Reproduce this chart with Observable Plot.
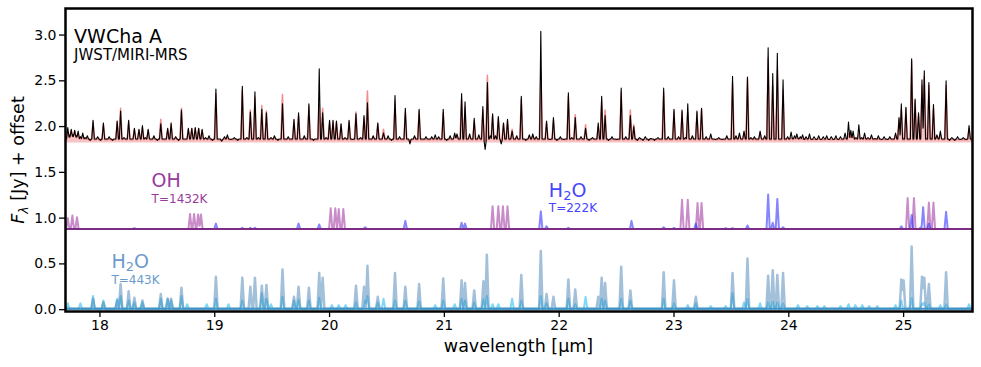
<!DOCTYPE html>
<html><head><meta charset="utf-8">
<script src="https://cdn.jsdelivr.net/npm/d3@7"></script>
<script src="https://cdn.jsdelivr.net/npm/@observablehq/plot@0.6"></script>
<style>body{margin:0;background:#fff} svg{display:block}</style>
</head><body><div id="chart"></div>
<script>
// Observed spectrum (black) and model (red) — [wavelength µm, observed flux+offset, model flux+offset]
const obsLines = [
 [17.72,1.99,1.95],[17.735,1.90,1.88],[17.75,1.97,1.96],[17.765,1.91,1.89],[17.78,1.96,1.95],[17.795,1.90,1.88],
 [17.81,1.95,1.93],[17.83,1.89,1.87],[17.85,1.93,1.91],[17.87,1.88,1.87],[17.89,1.90,1.87],[17.915,1.85,1.86],
 [17.94,2.07,2.05],[17.98,1.89,1.87],[18.005,1.85,1.86],[18.03,2.04,2.02],[18.08,1.89,1.87],[18.11,1.85,1.86],
 [18.15,2.06,2.05],[18.18,2.17,2.20],[18.21,1.88,1.87],[18.25,2.07,2.05],[18.30,1.98,1.97],[18.34,1.97,1.96],
 [18.37,2.01,1.99],[18.395,1.88,1.87],[18.42,1.97,1.96],[18.47,1.90,1.88],[18.50,1.85,1.86],[18.53,2.03,2.08],
 [18.59,1.98,1.97],[18.62,2.04,2.02],[18.66,1.89,1.88],[18.685,1.85,1.86],[18.71,2.18,2.20],[18.77,1.98,1.97],
 [18.80,1.98,1.98],[18.83,1.99,1.98],[18.86,1.98,1.98],[18.89,1.97,1.96],[18.92,1.88,1.87],[18.95,1.90,1.87],
 [18.98,1.85,1.86],[19.01,2.41,2.36],[19.06,1.84,1.85],[19.085,1.89,1.87],[19.11,1.91,1.88],[19.14,1.86,1.86],
 [19.17,1.88,1.86],[19.20,1.85,1.86],[19.24,2.44,2.40],[19.28,1.88,1.87],[19.31,2.16,2.18],[19.35,2.38,2.32],
 [19.38,1.88,1.87],[19.41,2.19,2.23],[19.45,2.15,2.17],[19.49,1.88,1.87],[19.52,1.90,1.88],[19.55,1.85,1.86],
 [19.59,2.25,2.35],[19.64,1.89,1.87],[19.69,2.08,2.06],[19.73,2.15,2.12],[19.78,1.90,1.88],[19.82,2.25,2.22],
 [19.86,1.85,1.86],[19.91,2.63,2.25],[19.94,2.15,2.20],[19.97,1.88,1.87],[20.00,2.07,2.05],[20.03,2.07,2.05],
 [20.06,2.06,2.05],[20.10,2.03,2.02],[20.135,1.88,1.87],[20.17,2.07,2.05],[20.20,1.86,1.86],[20.23,2.14,2.16],
 [20.27,1.88,1.87],[20.30,2.12,2.10],[20.33,2.26,2.39],[20.38,1.90,1.88],[20.42,2.04,2.03],[20.47,1.93,1.97],
 [20.51,1.90,1.88],[20.54,1.85,1.86],[20.57,2.34,2.28],[20.61,1.89,1.87],[20.66,2.20,2.15],[20.70,1.81,1.85],
 [20.74,1.90,1.88],[20.78,2.19,2.17],[20.84,1.89,1.87],[20.89,1.89,1.87],[20.92,1.91,1.87],[20.95,1.89,1.87],
 [20.99,2.19,2.15],[21.02,1.85,1.86],[21.05,1.90,1.87],[21.09,1.93,1.90],[21.11,1.92,1.90],[21.15,2.36,2.30],
 [21.18,2.27,2.21],[21.22,1.92,1.90],[21.26,2.09,2.06],[21.30,1.91,1.88],[21.335,2.22,2.18],[21.355,1.75,1.85],
 [21.375,2.48,2.56],[21.40,1.90,1.88],[21.42,2.14,2.12],[21.445,1.90,1.88],[21.47,2.11,2.09],[21.495,1.81,1.85],
 [21.515,2.04,2.03],[21.55,2.08,2.06],[21.59,1.95,1.97],[21.63,1.90,1.88],[21.67,2.33,2.30],[21.71,1.85,1.86],
 [21.74,1.91,1.90],[21.77,1.92,1.90],[21.80,1.89,1.87],[21.84,3.04,2.59],[21.89,2.06,2.05],[21.92,1.86,1.86],
 [21.95,2.10,2.07],[21.98,1.85,1.86],[22.01,1.89,1.87],[22.04,1.86,1.86],[22.08,2.37,2.33],[22.11,1.88,1.87],
 [22.14,2.10,2.13],[22.19,1.89,1.87],[22.23,1.98,2.02],[22.26,1.85,1.86],[22.29,1.88,1.87],[22.34,2.04,2.00],
 [22.37,2.33,2.28],[22.40,2.12,2.18],[22.43,1.85,1.86],[22.46,1.89,1.87],[22.50,1.86,1.86],[22.54,2.42,2.38],
 [22.58,1.89,1.87],[22.62,2.12,2.18],[22.65,2.00,2.02],[22.68,1.85,1.86],[22.70,1.88,1.86],[22.73,1.85,1.86],
 [22.75,1.89,1.86],[22.78,1.85,1.86],[22.80,1.87,1.86],[22.83,1.85,1.86],[22.86,1.88,1.86],[22.91,2.42,2.38],
 [22.95,1.89,1.87],[23.00,2.19,2.17],[23.04,1.89,1.87],[23.07,2.18,2.16],[23.10,1.88,1.87],[23.12,2.25,2.15],
 [23.16,1.90,1.88],[23.20,2.17,2.15],[23.24,2.20,2.19],[23.28,1.89,1.87],[23.32,1.92,1.88],[23.36,1.86,1.86],
 [23.39,1.88,1.86],[23.42,1.86,1.86],[23.46,1.90,1.88],[23.51,2.55,2.48],[23.54,1.90,1.88],[23.57,1.93,1.90],
 [23.61,1.95,1.92],[23.64,2.54,2.53],[23.67,1.88,1.87],[23.70,1.89,1.87],[23.75,1.95,1.93],[23.79,1.90,1.88],
 [23.82,2.86,2.75],[23.86,2.58,2.45],[23.90,2.80,2.62],[23.95,2.51,2.40],[23.99,1.89,1.87],[24.02,1.94,1.88],
 [24.035,1.87,1.86],[24.05,1.90,1.87],[24.07,1.92,1.88],[24.085,1.87,1.86],[24.10,1.89,1.87],[24.12,1.91,1.87],
 [24.135,1.86,1.86],[24.15,1.89,1.87],[24.18,1.92,1.88],[24.20,1.86,1.86],[24.22,1.89,1.86],[24.24,1.86,1.86],
 [24.26,1.90,1.87],[24.28,1.86,1.86],[24.30,1.89,1.86],[24.33,1.90,1.87],[24.35,1.86,1.86],[24.37,1.89,1.86],
 [24.39,1.86,1.86],[24.41,1.90,1.87],[24.43,1.86,1.86],[24.45,1.89,1.86],[24.49,1.93,1.88],[24.52,2.05,1.92],
 [24.54,1.96,1.90],[24.56,1.95,1.90],[24.585,1.88,1.87],[24.61,2.02,1.92],[24.635,1.88,1.87],[24.66,1.93,1.88],
 [24.69,1.88,1.86],[24.72,1.91,1.88],[24.75,1.87,1.86],[24.78,1.90,1.87],[24.81,1.86,1.86],[24.83,1.89,1.86],
 [24.86,1.86,1.86],[24.88,1.89,1.87],[24.93,1.93,1.90],[24.96,2.10,2.08],[24.98,2.25,2.18],[25.02,2.21,2.20],
 [25.07,2.74,2.72],[25.10,2.30,2.28],[25.13,2.15,2.12],[25.16,2.51,2.45],[25.18,2.61,2.55],[25.22,2.48,2.45],
 [25.26,2.24,2.20],[25.29,1.91,1.89],[25.32,1.95,1.92],[25.37,2.50,2.45],[25.40,1.85,1.86],[25.42,1.88,1.86],
 [25.445,1.85,1.86],[25.47,1.89,1.86],[25.495,1.86,1.86],[25.52,1.88,1.86],[25.545,1.86,1.86],[25.57,2.01,1.98]
];
const obsContinuum = 1.865;
const modelContinuum = 1.855;
const modelFillBase = 1.82;

// OH model, T=1432K (offset 0.882) — [wavelength, flux+offset]
const ohBase = 0.882;
const ohLines = [
 [17.72,1.00],[17.76,1.03],[17.80,1.01],
 [18.785,1.046],[18.82,1.046],[18.855,1.04],[18.88,1.04],
 [20.01,1.107],[20.05,1.107],[20.08,1.10],[20.12,1.10],
 [21.42,1.13],[21.47,1.13],[21.51,1.13],[21.55,1.13],
 [23.07,1.20],[23.12,1.20],[23.205,1.166],[23.24,1.166],
 [25.035,1.22],[25.09,1.22],[25.22,1.17],[25.26,1.17]
];
// H2O model, T=222K (offset 0.882)
const h2oColdLines = [
 [18.30,0.89],[19.01,0.94],[19.24,0.895],[19.31,0.895],[19.35,0.895],[19.73,0.94],[19.91,0.93],[20.31,0.90],
 [20.66,0.97],[21.15,0.95],[21.18,0.94],[21.84,1.075],[21.89,0.91],[22.08,0.895],[22.63,0.97],[22.91,0.90],
 [23.00,0.895],[23.19,0.94],[23.45,0.89],[23.51,0.89],[23.64,0.92],[23.82,1.257],[23.86,0.95],[23.90,1.21],
 [23.95,0.90],[24.98,0.91],[25.07,1.035],[25.15,0.90],[25.17,1.12],[25.22,0.94],[25.37,1.07]
];
// H2O model, T=443K (offset 0)
const compBase = 0.01;
const h2oWarmLines = [
 [17.94,0.12],[18.03,0.08],[18.15,0.10],[18.18,0.28],[18.25,0.20],[18.30,0.13],[18.37,0.10],[18.53,0.17],
 [18.59,0.12],[18.62,0.12],[18.71,0.24],[19.01,0.36],[19.24,0.35],[19.31,0.25],[19.35,0.35],[19.41,0.26],
 [19.45,0.27],[19.59,0.44],[19.69,0.14],[19.73,0.25],[19.82,0.24],[19.91,0.40],[19.94,0.35],[20.23,0.26],
 [20.30,0.25],[20.33,0.48],[20.42,0.14],[20.57,0.40],[20.66,0.25],[20.78,0.28],[20.99,0.34],[21.15,0.32],
 [21.18,0.29],[21.26,0.21],[21.34,0.31],[21.37,0.60],[21.67,0.38],[21.84,0.64],[21.89,0.17],[21.95,0.14],
 [22.08,0.33],[22.14,0.22],[22.34,0.14],[22.37,0.35],[22.40,0.29],[22.54,0.47],[22.62,0.21],[22.91,0.41],
 [23.00,0.32],[23.19,0.14],[23.51,0.40],[23.64,0.56],[23.82,0.37],[23.86,0.43],[23.90,0.38],[23.95,0.40],
 [24.98,0.33],[25.00,0.32],[25.07,0.69],[25.16,0.36],[25.18,0.35],[25.22,0.28],[25.37,0.41]
];
// Hot component (light cyan, offset 0)
const hotLines = [
 [17.72,0.07],[17.83,0.07],[17.94,0.15],[18.03,0.10],[18.15,0.12],[18.18,0.15],[18.25,0.10],[18.30,0.08],
 [18.37,0.08],[18.53,0.12],[18.59,0.12],[18.62,0.10],[18.71,0.15],[18.76,0.06],[18.93,0.06],[19.01,0.12],
 [19.12,0.06],[19.24,0.10],[19.41,0.18],[19.45,0.12],[19.49,0.06],[19.59,0.14],[19.69,0.10],[19.73,0.11],
 [19.82,0.10],[19.91,0.13],[20.02,0.05],[20.08,0.05],[20.14,0.05],[20.23,0.08],[20.31,0.10],[20.33,0.15],
 [20.42,0.08],[20.47,0.12],[20.57,0.10],[20.66,0.10],[20.78,0.09],[20.92,0.05],[20.99,0.10],[21.09,0.06],
 [21.15,0.12],[21.18,0.10],[21.26,0.08],[21.34,0.11],[21.37,0.15],[21.42,0.06],[21.47,0.06],[21.59,0.12],
 [21.67,0.10],[21.84,0.15],[21.89,0.07],[22.08,0.12],[22.14,0.06],[22.23,0.14],[22.37,0.12],[22.40,0.10],
 [22.54,0.12],[22.62,0.10],[22.91,0.12],[23.00,0.07],[23.12,0.05],[23.19,0.07],[23.32,0.04],[23.45,0.04],
 [23.51,0.18],[23.61,0.08],[23.64,0.12],[23.75,0.07],[23.82,0.08],[23.86,0.09],[23.90,0.08],[23.95,0.07],
 [24.08,0.05],[24.16,0.04],[24.25,0.04],[24.31,0.04],[24.45,0.04],[24.52,0.06],[24.58,0.05],[24.64,0.05],
 [24.70,0.04],[24.77,0.04],[24.93,0.05],[24.98,0.10],[25.07,0.13],[25.16,0.07],[25.18,0.08],[25.22,0.06],
 [25.32,0.05],[25.37,0.06],[25.57,0.06]
];
const xTicks = [18, 19, 20, 21, 22, 23, 24, 25];
const yTicks = [0, 0.5, 1.0, 1.5, 2.0, 2.5, 3.0];
const xDomain = [17.7, 25.6];
const yDomain = [-0.02, 3.29];

// Build a piecewise-linear line table from the read line peaks
function profile(lines, base, w, col = 1) {
  const xs = new Set(xDomain);
  for (const l of lines) { xs.add(+(l[0] - w).toFixed(4)); xs.add(l[0]); xs.add(+(l[0] + w).toFixed(4)); }
  return [...xs].sort((a, b) => a - b).map(x => ({
    x, y: base + d3.sum(lines, l => (l[col] - base) * Math.max(0, 1 - Math.abs(x - l[0]) / w))
  }));
}
const obs = profile(obsLines, obsContinuum, 0.011, 1);
const model = profile(obsLines, modelContinuum, 0.014, 2);
const oh = profile(ohLines, ohBase, 0.014);
const h2oCold = profile(h2oColdLines, ohBase, 0.014);
const h2oWarm = profile(h2oWarmLines, compBase, 0.015);
const hot = profile(hotLines, compBase, 0.015);

const font = "DejaVu Sans";
const chart = Plot.plot({
  width: 981, height: 367,
  marginLeft: 65, marginRight: 9, marginTop: 8, marginBottom: 56,
  style: {fontFamily: font, fontSize: "14px", color: "black", background: "white"},
  x: {domain: xDomain},
  y: {domain: yDomain},
  marks: [
    Plot.areaY(model, {x: "x", y1: modelFillBase, y2: "y", fill: "#f6c4c4", clip: true}),
    Plot.lineY(model, {x: "x", y: "y", stroke: "#ec6a6a", strokeOpacity: 0.75, strokeWidth: 1.5, clip: true}),
    Plot.lineY(obs, {x: "x", y: "y", stroke: "black", strokeWidth: 1.1, clip: true}),
    Plot.lineY(hot, {x: "x", y: "y", stroke: "#2cbef2", strokeOpacity: 0.6, strokeWidth: 2, clip: true}),
    Plot.lineY(h2oWarm, {x: "x", y: "y", stroke: "#4682b4", strokeOpacity: 0.5, strokeWidth: 2.5, clip: true}),
    Plot.ruleY([compBase], {stroke: "#3f93c6", strokeWidth: 2}),
    Plot.lineY(oh, {x: "x", y: "y", stroke: "#9b2f9b", strokeOpacity: 0.55, strokeWidth: 2, clip: true}),
    Plot.lineY(h2oCold, {x: "x", y: "y", stroke: "#2020ff", strokeOpacity: 0.55, strokeWidth: 2, clip: true}),
    Plot.ruleY([ohBase], {stroke: "#7d2c85", strokeWidth: 2}),
    Plot.text(["VWCha A"], {x: 17.775, y: 2.91, text: d => d, textAnchor: "start", lineAnchor: "bottom", fontSize: 19, fill: "black"}),
    Plot.text(["JWST/MIRI-MRS"], {x: 17.775, y: 2.73, text: d => d, textAnchor: "start", lineAnchor: "bottom", fontSize: 15, fill: "black"}),
    Plot.text(["OH"], {x: 18.45, y: 1.335, text: d => d, textAnchor: "start", lineAnchor: "bottom", fontSize: 19, fill: "#9a3a9c"}),
    Plot.text(["T=1432K"], {x: 18.45, y: 1.165, text: d => d, textAnchor: "start", lineAnchor: "bottom", fontSize: 12, fill: "#9a3a9c"}),
    Plot.text(["H₂O"], {x: 21.91, y: 1.235, text: d => d, textAnchor: "start", lineAnchor: "bottom", fontSize: 19, fill: "#4545ff"}),
    Plot.text(["T=222K"], {x: 21.91, y: 1.062, text: d => d, textAnchor: "start", lineAnchor: "bottom", fontSize: 12, fill: "#4545ff"}),
    Plot.text(["H₂O"], {x: 18.10, y: 0.452, text: d => d, textAnchor: "start", lineAnchor: "bottom", fontSize: 19, fill: "#6b9bcb"}),
    Plot.text(["T=443K"], {x: 18.10, y: 0.279, text: d => d, textAnchor: "start", lineAnchor: "bottom", fontSize: 12, fill: "#6b9bcb"}),
    Plot.axisX({ticks: xTicks, tickSize: 6, tickPadding: 3, strokeWidth: 1.3, label: null}),
    Plot.axisY({ticks: yTicks, tickFormat: d3.format(".1f"), tickSize: 6, tickPadding: 3, strokeWidth: 1.3, label: null}),
    Plot.frame({stroke: "black", strokeWidth: 2.5})
  ]
});
document.getElementById("chart").appendChild(chart);

const svg = d3.select(chart);
// Render the subscript 2 of H₂O as a lowered, smaller digit (mathtext style)
svg.selectAll("text").filter(function () { return this.textContent === "H₂O"; }).each(function () {
  const t = d3.select(this);
  t.text(null);
  t.append("tspan").text("H");
  t.append("tspan").attr("dy", 3).style("font-size", "13px").text("2");
  t.append("tspan").attr("dy", -3).text("O");
});
svg.append("text")
  .attr("x", 518.5).attr("y", 352)
  .attr("text-anchor", "middle")
  .style("font-family", font).style("font-size", "17.5px").attr("fill", "black")
  .text("wavelength [μm]");
const yl = svg.append("text")
  .attr("transform", "translate(24,160) rotate(-90)")
  .attr("text-anchor", "middle")
  .style("font-family", font).style("font-size", "17.5px").attr("fill", "black");
yl.append("tspan").style("font-style", "italic").text("F");
yl.append("tspan").style("font-style", "italic").style("font-size", "12.5px").attr("dy", 4).text("λ");
yl.append("tspan").attr("dy", -4).text(" [Jy] + offset");
</script>
</body></html>
